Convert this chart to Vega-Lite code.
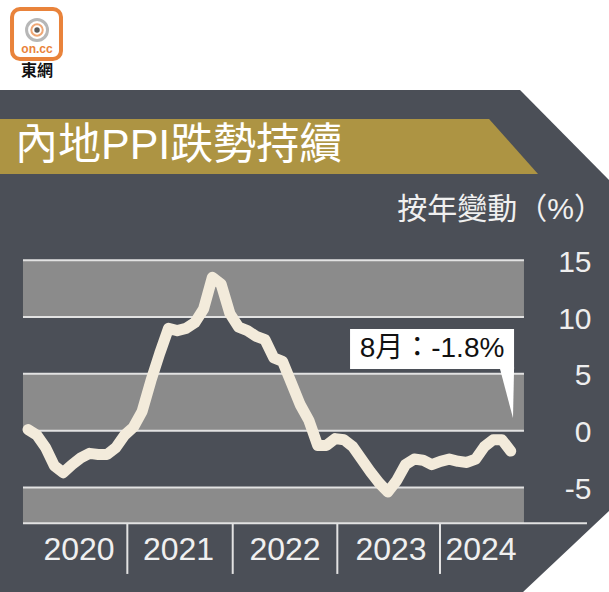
{
  "$schema": "https://vega.github.io/schema/vega-lite/v6.json",
  "width": 609,
  "height": 592,
  "autosize": "none",
  "padding": 0,
  "background": "white",
  "config": {"view": {"stroke": null}},
  "layer": [
    {
      "data": {"values": [
        {"px": -3.77, "top": 29.98, "bot": -14.9},
        {"px": 55.43, "top": 29.98, "bot": -14.9},
        {"px": 56.06, "top": 29.98, "bot": -14.45},
        {"px": 66.77, "top": 21.61, "bot": -6.66}
      ]},
      "mark": {"type": "area", "color": "#4b4f57", "orient": "vertical"},
      "encoding": {
        "x": {"field": "px", "type": "quantitative", "scale": {"type": "linear", "domain": [-3.2, 66.2], "nice": false, "zero": false}, "axis": null},
        "y": {"field": "top", "type": "quantitative", "stack": null, "scale": {"type": "linear", "domain": [-14.2, 37.9], "nice": false, "zero": false},
          "axis": {"orient": "right", "values": [-5, 0, 5, 10, 15], "labelExpr": "'' + datum.value", "title": null, "domain": false, "ticks": false, "grid": false, "offset": -18, "labelPadding": 0, "labelAlign": "right", "labelBaseline": "middle", "labelOffset": 2, "labelFont": "Liberation Sans", "labelFontSize": 30, "labelColor": "#eeeeee", "labelOverlap": false, "zindex": 1}},
        "y2": {"field": "bot"}
      }
    },
    {
      "data": {"values": [
        {"px": -3.77, "top": 27.43, "bot": 22.59},
        {"px": 52.53, "top": 27.43, "bot": 22.59},
        {"px": 58.11, "top": 22.59, "bot": 22.59}
      ]},
      "mark": {"type": "area", "color": "#ad9443", "orient": "vertical"},
      "encoding": {
        "x": {"field": "px", "type": "quantitative", "scale": {"type": "linear", "domain": [-3.2, 66.2], "nice": false, "zero": false}, "axis": null},
        "y": {"field": "top", "type": "quantitative", "stack": null, "scale": {"type": "linear", "domain": [-14.2, 37.9], "nice": false, "zero": false}},
        "y2": {"field": "bot"}
      }
    },
    {
      "data": {"values": [
        {"lo": 10, "hi": 15},
        {"lo": 0, "hi": 5},
        {"lo": -8.15, "hi": -5}
      ]},
      "mark": {"type": "rect", "color": "#8b8b8b"},
      "encoding": {
        "x": {"datum": -0.58, "type": "quantitative", "scale": {"type": "linear", "domain": [-3.2, 66.2], "nice": false, "zero": false}, "axis": null},
        "x2": {"datum": 56.51},
        "y": {"field": "hi", "type": "quantitative", "scale": {"type": "linear", "domain": [-14.2, 37.9], "nice": false, "zero": false}},
        "y2": {"field": "lo"}
      }
    },
    {
      "data": {"values": [{"v": 15}, {"v": 10}, {"v": 5}, {"v": 0}, {"v": -5}]},
      "mark": {"type": "rule", "color": "#e2e2e2", "strokeWidth": 2},
      "encoding": {
        "x": {"datum": -0.58, "type": "quantitative", "scale": {"type": "linear", "domain": [-3.2, 66.2], "nice": false, "zero": false}, "axis": null},
        "x2": {"datum": 56.51},
        "y": {"field": "v", "type": "quantitative", "scale": {"type": "linear", "domain": [-14.2, 37.9], "nice": false, "zero": false}}
      }
    },
    {
      "data": {"values": [{"v": -8.15}]},
      "mark": {"type": "rule", "color": "#e2e2e2", "strokeWidth": 2},
      "encoding": {
        "x": {"datum": -0.58, "type": "quantitative", "scale": {"type": "linear", "domain": [-3.2, 66.2], "nice": false, "zero": false}, "axis": null},
        "x2": {"datum": 63.69},
        "y": {"field": "v", "type": "quantitative", "scale": {"type": "linear", "domain": [-14.2, 37.9], "nice": false, "zero": false}}
      }
    },
    {
      "data": {"values": [{"s": 11.31}, {"s": 23.32}, {"s": 35.24}, {"s": 46.94}]},
      "mark": {"type": "rule", "color": "#e2e2e2", "strokeWidth": 2},
      "encoding": {
        "x": {"field": "s", "type": "quantitative", "scale": {"type": "linear", "domain": [-3.2, 66.2], "nice": false, "zero": false}, "axis": null},
        "y": {"datum": -8.15, "type": "quantitative", "scale": {"type": "linear", "domain": [-14.2, 37.9], "nice": false, "zero": false}},
        "y2": {"datum": -12.61}
      }
    },
    {
      "data": {"values": [
        {"month": "2020-01", "i": 0, "v": 0.1}, {"month": "2020-02", "i": 1, "v": -0.4}, {"month": "2020-03", "i": 2, "v": -1.5}, {"month": "2020-04", "i": 3, "v": -3.1},
        {"month": "2020-05", "i": 4, "v": -3.7}, {"month": "2020-06", "i": 5, "v": -3.0}, {"month": "2020-07", "i": 6, "v": -2.4}, {"month": "2020-08", "i": 7, "v": -2.0},
        {"month": "2020-09", "i": 8, "v": -2.1}, {"month": "2020-10", "i": 9, "v": -2.1}, {"month": "2020-11", "i": 10, "v": -1.5}, {"month": "2020-12", "i": 11, "v": -0.4},
        {"month": "2021-01", "i": 12, "v": 0.3}, {"month": "2021-02", "i": 13, "v": 1.7}, {"month": "2021-03", "i": 14, "v": 4.4}, {"month": "2021-04", "i": 15, "v": 6.8},
        {"month": "2021-05", "i": 16, "v": 9.0}, {"month": "2021-06", "i": 17, "v": 8.8}, {"month": "2021-07", "i": 18, "v": 9.0}, {"month": "2021-08", "i": 19, "v": 9.5},
        {"month": "2021-09", "i": 20, "v": 10.7}, {"month": "2021-10", "i": 21, "v": 13.5}, {"month": "2021-11", "i": 22, "v": 12.9}, {"month": "2021-12", "i": 23, "v": 10.3},
        {"month": "2022-01", "i": 24, "v": 9.1}, {"month": "2022-02", "i": 25, "v": 8.8}, {"month": "2022-03", "i": 26, "v": 8.3}, {"month": "2022-04", "i": 27, "v": 8.0},
        {"month": "2022-05", "i": 28, "v": 6.4}, {"month": "2022-06", "i": 29, "v": 6.1}, {"month": "2022-07", "i": 30, "v": 4.2}, {"month": "2022-08", "i": 31, "v": 2.3},
        {"month": "2022-09", "i": 32, "v": 0.9}, {"month": "2022-10", "i": 33, "v": -1.3}, {"month": "2022-11", "i": 34, "v": -1.3}, {"month": "2022-12", "i": 35, "v": -0.7},
        {"month": "2023-01", "i": 36, "v": -0.8}, {"month": "2023-02", "i": 37, "v": -1.4}, {"month": "2023-03", "i": 38, "v": -2.5}, {"month": "2023-04", "i": 39, "v": -3.6},
        {"month": "2023-05", "i": 40, "v": -4.6}, {"month": "2023-06", "i": 41, "v": -5.4}, {"month": "2023-07", "i": 42, "v": -4.4}, {"month": "2023-08", "i": 43, "v": -3.0},
        {"month": "2023-09", "i": 44, "v": -2.5}, {"month": "2023-10", "i": 45, "v": -2.6}, {"month": "2023-11", "i": 46, "v": -3.0}, {"month": "2023-12", "i": 47, "v": -2.7},
        {"month": "2024-01", "i": 48, "v": -2.5}, {"month": "2024-02", "i": 49, "v": -2.7}, {"month": "2024-03", "i": 50, "v": -2.8}, {"month": "2024-04", "i": 51, "v": -2.5},
        {"month": "2024-05", "i": 52, "v": -1.4}, {"month": "2024-06", "i": 53, "v": -0.8}, {"month": "2024-07", "i": 54, "v": -0.8}, {"month": "2024-08", "i": 55, "v": -1.8}
      ]},
      "mark": {"type": "line", "color": "#f3ebdb", "strokeWidth": 11, "strokeCap": "round", "strokeJoin": "round"},
      "encoding": {
        "x": {"field": "i", "type": "quantitative", "scale": {"type": "linear", "domain": [-3.2, 66.2], "nice": false, "zero": false}, "axis": null},
        "y": {"field": "v", "type": "quantitative", "scale": {"type": "linear", "domain": [-14.2, 37.9], "nice": false, "zero": false}}
      }
    },
    {
      "data": {"values": [{"label": "8月：-1.8%"}]},
      "mark": {"type": "rect", "color": "white"},
      "encoding": {
        "x": {"datum": 36.69, "type": "quantitative", "scale": {"type": "linear", "domain": [-3.2, 66.2], "nice": false, "zero": false}, "axis": null},
        "x2": {"datum": 55.38},
        "y": {"datum": 8.95, "type": "quantitative", "scale": {"type": "linear", "domain": [-14.2, 37.9], "nice": false, "zero": false}},
        "y2": {"datum": 5.43}
      }
    },
    {
      "data": {"values": [
        {"px": 53.78, "top": 5.6, "bot": 5.43},
        {"px": 55.26, "top": 5.6, "bot": 1.11},
        {"px": 55.38, "top": 5.6, "bot": 5.43}
      ]},
      "mark": {"type": "area", "color": "white", "orient": "vertical"},
      "encoding": {
        "x": {"field": "px", "type": "quantitative", "scale": {"type": "linear", "domain": [-3.2, 66.2], "nice": false, "zero": false}, "axis": null},
        "y": {"field": "top", "type": "quantitative", "stack": null, "scale": {"type": "linear", "domain": [-14.2, 37.9], "nice": false, "zero": false}},
        "y2": {"field": "bot"}
      }
    },
    {
      "data": {"values": [{"label": "8月：-1.8%"}]},
      "mark": {"type": "text", "color": "#111111", "font": "Liberation Sans, Noto Sans CJK TC", "fontSize": 28, "align": "center", "baseline": "middle"},
      "encoding": {
        "x": {"datum": 46.03, "type": "quantitative", "scale": {"type": "linear", "domain": [-3.2, 66.2], "nice": false, "zero": false}, "axis": null},
        "y": {"datum": 7.19, "type": "quantitative", "scale": {"type": "linear", "domain": [-14.2, 37.9], "nice": false, "zero": false}},
        "text": {"field": "label"}
      }
    },
    {
      "data": {"values": [{"t": "內地PPI跌勢持續"}]},
      "mark": {"type": "text", "color": "white", "font": "Liberation Sans, Noto Sans CJK TC", "fontSize": 43, "align": "left", "baseline": "middle"},
      "encoding": {
        "x": {"datum": -1.49, "type": "quantitative", "scale": {"type": "linear", "domain": [-3.2, 66.2], "nice": false, "zero": false}, "axis": null},
        "y": {"datum": 25.01, "type": "quantitative", "scale": {"type": "linear", "domain": [-14.2, 37.9], "nice": false, "zero": false}},
        "text": {"field": "t"}
      }
    },
    {
      "data": {"values": [{"t": "按年變動（%）"}]},
      "mark": {"type": "text", "color": "#f0f0f0", "font": "Liberation Sans, Noto Sans CJK TC", "fontSize": 30, "align": "right", "baseline": "middle"},
      "encoding": {
        "x": {"datum": 65.63, "type": "quantitative", "scale": {"type": "linear", "domain": [-3.2, 66.2], "nice": false, "zero": false}, "axis": null},
        "y": {"datum": 19.42, "type": "quantitative", "scale": {"type": "linear", "domain": [-14.2, 37.9], "nice": false, "zero": false}},
        "text": {"field": "t"}
      }
    },
    {
      "data": {"values": [
        {"year": "2020", "c": 5.8},
        {"year": "2021", "c": 17.14},
        {"year": "2022", "c": 29.28},
        {"year": "2023", "c": 41.36},
        {"year": "2024", "c": 51.61}
      ]},
      "mark": {"type": "text", "color": "#f0f0f0", "font": "Liberation Sans", "fontSize": 32, "align": "center", "baseline": "middle"},
      "encoding": {
        "x": {"field": "c", "type": "quantitative", "scale": {"type": "linear", "domain": [-3.2, 66.2], "nice": false, "zero": false}, "axis": null},
        "y": {"datum": -10.5, "type": "quantitative", "scale": {"type": "linear", "domain": [-14.2, 37.9], "nice": false, "zero": false}},
        "text": {"field": "year"}
      }
    },
    {
      "data": {"values": [{"brand": "on.cc"}]},
      "mark": {"type": "rect", "fill": "white", "stroke": "#e9833b", "strokeWidth": 4, "cornerRadius": 8},
      "encoding": {
        "x": {"datum": -1.83, "type": "quantitative", "scale": {"type": "linear", "domain": [-3.2, 66.2], "nice": false, "zero": false}, "axis": null},
        "x2": {"datum": 3.75},
        "y": {"datum": 37.11, "type": "quantitative", "scale": {"type": "linear", "domain": [-14.2, 37.9], "nice": false, "zero": false}},
        "y2": {"datum": 32.71}
      }
    },
    {
      "data": {"values": [{"ring": "outer"}]},
      "mark": {"type": "point", "shape": "circle", "filled": false, "stroke": "#9a9a9a", "strokeWidth": 3, "size": 440},
      "encoding": {
        "x": {"datum": 1.02, "type": "quantitative", "scale": {"type": "linear", "domain": [-3.2, 66.2], "nice": false, "zero": false}, "axis": null},
        "y": {"datum": 35.26, "type": "quantitative", "scale": {"type": "linear", "domain": [-14.2, 37.9], "nice": false, "zero": false}}
      }
    },
    {
      "data": {"values": [{"ring": "inner"}]},
      "mark": {"type": "point", "shape": "circle", "filled": false, "stroke": "#e9833b", "strokeWidth": 2, "size": 130},
      "encoding": {
        "x": {"datum": 1.02, "type": "quantitative", "scale": {"type": "linear", "domain": [-3.2, 66.2], "nice": false, "zero": false}, "axis": null},
        "y": {"datum": 35.26, "type": "quantitative", "scale": {"type": "linear", "domain": [-14.2, 37.9], "nice": false, "zero": false}}
      }
    },
    {
      "data": {"values": [{"ring": "dot"}]},
      "mark": {"type": "point", "shape": "circle", "filled": true, "color": "#5a5a5a", "opacity": 1, "size": 30},
      "encoding": {
        "x": {"datum": 1.02, "type": "quantitative", "scale": {"type": "linear", "domain": [-3.2, 66.2], "nice": false, "zero": false}, "axis": null},
        "y": {"datum": 35.26, "type": "quantitative", "scale": {"type": "linear", "domain": [-14.2, 37.9], "nice": false, "zero": false}}
      }
    },
    {
      "data": {"values": [{"t": "on.cc"}]},
      "mark": {"type": "text", "color": "#e9833b", "font": "Liberation Sans", "fontSize": 12, "fontWeight": "bold", "align": "center", "baseline": "middle"},
      "encoding": {
        "x": {"datum": 1.02, "type": "quantitative", "scale": {"type": "linear", "domain": [-3.2, 66.2], "nice": false, "zero": false}, "axis": null},
        "y": {"datum": 33.59, "type": "quantitative", "scale": {"type": "linear", "domain": [-14.2, 37.9], "nice": false, "zero": false}},
        "text": {"field": "t"}
      }
    },
    {
      "data": {"values": [{"t": "東網"}]},
      "mark": {"type": "text", "color": "#111111", "font": "Noto Sans CJK TC", "fontSize": 16, "fontWeight": "bold", "align": "center", "baseline": "middle"},
      "encoding": {
        "x": {"datum": 1.02, "type": "quantitative", "scale": {"type": "linear", "domain": [-3.2, 66.2], "nice": false, "zero": false}, "axis": null},
        "y": {"datum": 31.65, "type": "quantitative", "scale": {"type": "linear", "domain": [-14.2, 37.9], "nice": false, "zero": false}},
        "text": {"field": "t"}
      }
    }
  ]
}
